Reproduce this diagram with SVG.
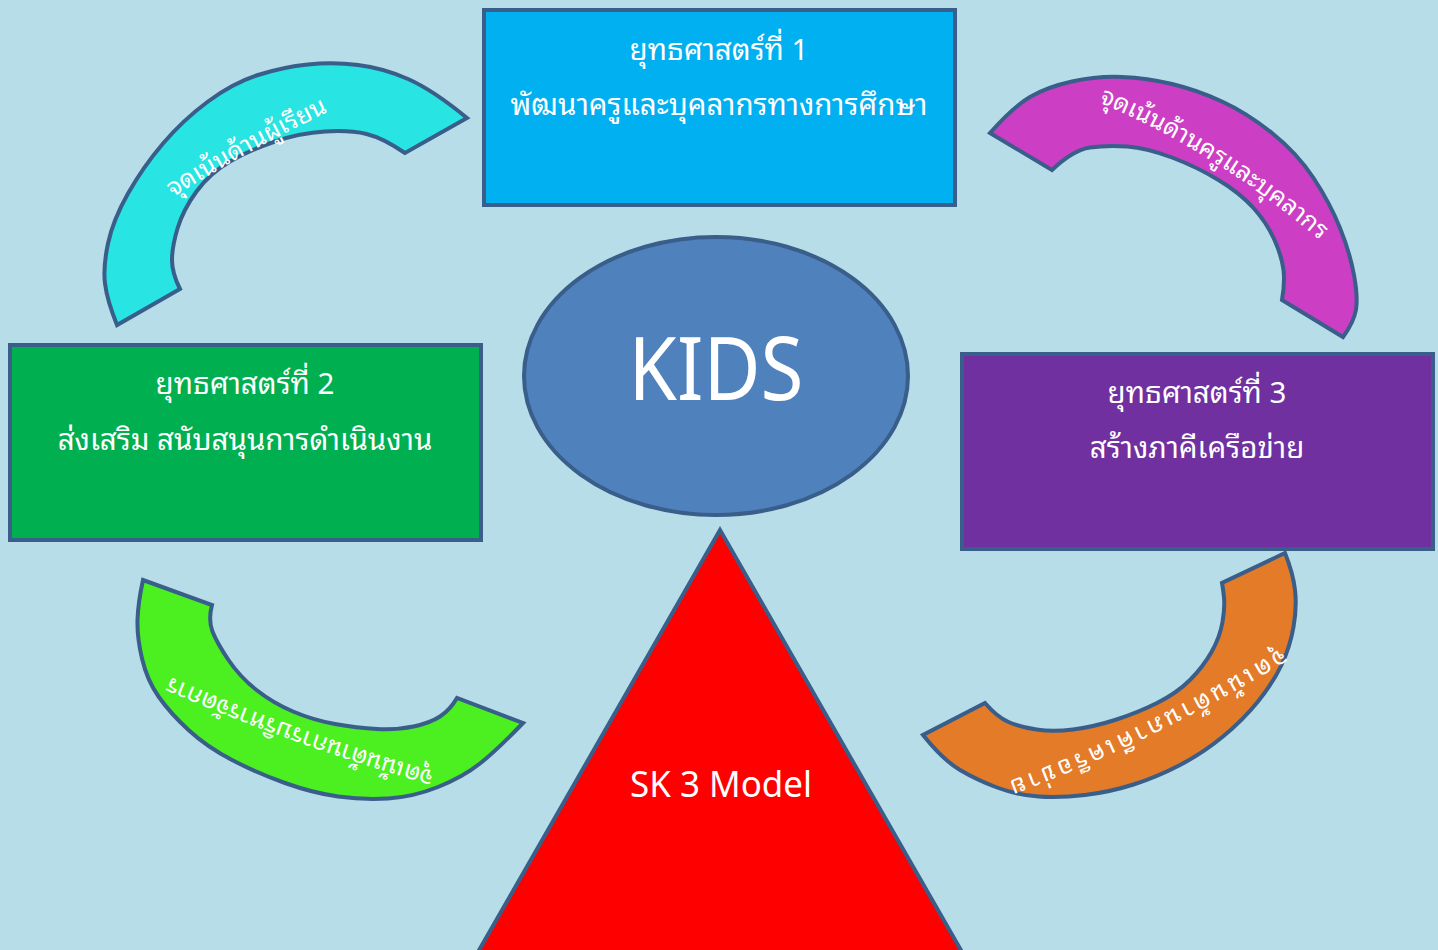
<svg xmlns="http://www.w3.org/2000/svg" width="1438" height="950" viewBox="0 0 1438 950">
<style>
.bg{fill:#B7DDE8}
.box{stroke:#395E8A;stroke-width:4}
.arc{stroke:#395E8A;stroke-width:4;stroke-linejoin:miter}
.th{font-family:"Noto Sans Thai Looped","Noto Sans Thai","Leelawadee UI",Tahoma,"Noto Sans","DejaVu Sans",sans-serif;fill:#FFFFFF}
.boxt{font-size:29.5px;text-anchor:middle}
.arct{font-size:25px;text-anchor:middle}
</style>
<defs>
<path id="pCyan" d="M 150,212 Q 245,150 345,104"/>
<path id="pMag" d="M 1080,95 Q 1217.5,147.5 1345,262"/>
<path id="pGreen" d="M 455,777 Q 301.5,735.5 150,668"/>
<path id="pOrange" d="M 1290,643 Q 1137.5,735.5 995,786"/>
</defs>
<rect class="bg" x="0" y="0" width="1438" height="950"/>

<g id="arc-cyan">
<path class="arc" fill="#28E4E2" d="M 467,118 Q 433,90 408,79 Q 383,68 358,65 Q 333,62 308,64.5 Q 283,67 258,75 Q 233,83 208,101.5 Q 183,120 163,143.5 Q 143,167 128,193.5 Q 113,220 108,243.5 Q 103,267 105,283.5 Q 107,300 117,325 L 180,289 Q 172,273 172,260 Q 172,247 177.5,228.5 Q 183,210 196.5,191.5 Q 210,173 230,161.5 Q 250,150 275,141.5 Q 300,133 325,131.5 Q 350,130 366.5,134 Q 383,138 405,153 Z"/>
<text class="th arct"><textPath href="#pCyan" startOffset="52%">จุดเน้นด้านผู้เรียน</textPath></text>
</g>

<g id="arc-magenta">
<path class="arc" fill="#CC3EC3" d="M 990,133 Q 1013,107 1030,97 Q 1047,87 1072,81.5 Q 1097,76 1122,77 Q 1147,78 1172,84 Q 1197,90 1222,101.5 Q 1247,113 1272,133 Q 1297,153 1313.5,178 Q 1330,203 1340,228 Q 1350,253 1354,275 Q 1358,297 1356,309.5 Q 1354,322 1343,337 L 1282,300 Q 1285,283 1283.5,270 Q 1282,257 1274.5,240 Q 1267,223 1253.5,208 Q 1240,193 1218.5,180 Q 1197,167 1172,157.5 Q 1147,148 1127,146.5 Q 1107,145 1090,147.5 Q 1073,150 1052,170 Z"/>
<text class="th arct"><textPath href="#pMag" startOffset="48%">จุดเน้นด้านครูและบุคลากร</textPath></text>
</g>

<g id="arc-green">
<path class="arc" fill="#4CEF20" d="M 143,580 Q 138,603 137.5,620 Q 137,637 142,658.5 Q 147,680 158.5,696.5 Q 170,713 188.5,730 Q 207,747 232,760 Q 257,773 285,783 Q 313,793 338,796.5 Q 363,800 388,798.5 Q 413,797 438,787 Q 463,777 480,763.5 Q 497,750 523,723 L 457,698 Q 450,710 440,716.5 Q 430,723 413.5,726.5 Q 397,730 377,729 Q 357,728 335,724 Q 313,720 293,711.5 Q 273,703 256.5,690 Q 240,677 228.5,660 Q 217,643 212.5,631.5 Q 208,620 212,605 Z"/>
<text class="th arct"><textPath href="#pGreen" startOffset="50%">จุดเน้นด้านการบริหารจัดการ</textPath></text>
</g>

<g id="arc-orange">
<path class="arc" fill="#E37B28" d="M 1285,553 Q 1293,573 1295,590 Q 1297,607 1293.5,627 Q 1290,647 1281.5,665 Q 1273,683 1258,701.5 Q 1243,720 1223,736.5 Q 1203,753 1180,765 Q 1157,777 1133.5,784.5 Q 1110,792 1085,795 Q 1060,798 1038.5,796.5 Q 1017,795 997,787.5 Q 977,780 960,770 Q 943,760 923,735 L 985,703 Q 997,717 1008.5,722 Q 1020,727 1036.5,729.5 Q 1053,732 1073,729.5 Q 1093,727 1115,720 Q 1137,713 1157,703 Q 1177,693 1190,680 Q 1203,667 1211.5,652 Q 1220,637 1222.5,622 Q 1225,607 1224,597.5 Q 1223,588 1222,583 Z"/>
<text class="th arct" letter-spacing="3.6"><textPath href="#pOrange" startOffset="50%">จุดเน้นด้านภาคีเครือข่าย</textPath></text>
</g>

<g id="box1">
<rect class="box" x="484" y="10" width="471" height="195" fill="#00B0F0"/>
<text class="th boxt" x="719" y="60">ยุทธศาสตร์ที่ 1</text>
<text class="th boxt" x="719" y="115">พัฒนาครูและบุคลากรทางการศึกษา</text>
</g>

<g id="box2">
<rect class="box" x="10" y="345" width="471" height="195" fill="#00B050"/>
<text class="th boxt" x="245" y="394">ยุทธศาสตร์ที่ 2</text>
<text class="th boxt" x="245" y="450">ส่งเสริม สนับสนุนการดำเนินงาน</text>
</g>

<g id="box3">
<rect class="box" x="962" y="354" width="471" height="195" fill="#7030A0"/>
<text class="th boxt" x="1197" y="403">ยุทธศาสตร์ที่ 3</text>
<text class="th boxt" x="1197" y="458">สร้างภาคีเครือข่าย</text>
</g>

<g id="kids">
<ellipse cx="716" cy="376" rx="192" ry="139" fill="#4F81BD" stroke="#395E8A" stroke-width="4"/>
<text x="716" y="400" text-anchor="middle" font-family="'Noto Sans','Open Sans',sans-serif" font-size="88" fill="#FFFFFF" textLength="175" lengthAdjust="spacingAndGlyphs">KIDS</text>
</g>

<g id="triangle">
<path d="M 720,530 L 962,952 L 478,952 Z" fill="#FF0000" stroke="#395E8A" stroke-width="4"/>
<text x="721" y="797" text-anchor="middle" font-family="'Noto Sans','Open Sans',sans-serif" font-size="37" fill="#FFFFFF" textLength="182" lengthAdjust="spacingAndGlyphs">SK 3 Model</text>
</g>
</svg>
